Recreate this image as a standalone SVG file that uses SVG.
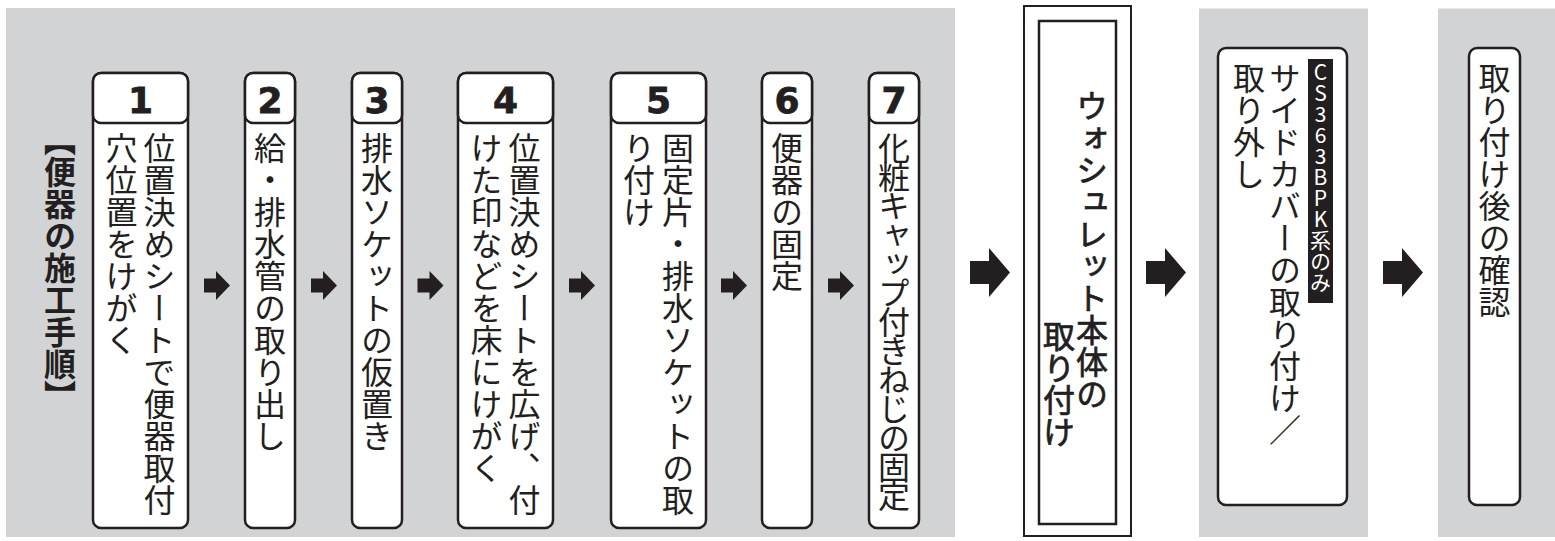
<svg xmlns="http://www.w3.org/2000/svg" width="1555" height="541" viewBox="0 0 1555 541">
<style>
.panel{fill:#d1d3d4}
.box{fill:#fff;stroke:#231f20;stroke-width:2.5}
.num{font-family:"DejaVu Sans","Liberation Sans",sans-serif;font-weight:bold;font-size:36px;fill:#231f20;stroke:#231f20;stroke-width:0.8;text-anchor:middle}
.vt{font-family:"Noto Sans CJK JP","Noto Sans CJK SC",sans-serif;font-size:32px;fill:#231f20;writing-mode:vertical-rl}
.title{font-weight:bold;font-feature-settings:"vhal"}
.med{stroke:#231f20;stroke-width:0.7}
.lbl{font-size:21px;fill:#fff;text-orientation:upright}
.arr{fill:#231f20}
</style>
<defs>
<path id="sa" d="M0,-7 H12 V-14.5 L26,0 L12,14.5 V7 H0 Z"/>
<path id="la" d="M0,-11.5 H19 V-24.5 L40,0 L19,24.5 V11.5 H0 Z"/>
</defs>
<rect class="panel" x="6" y="8" width="949" height="529"/>
<rect class="panel" x="1199" y="8.5" width="169" height="528.5"/>
<rect class="panel" x="1438" y="8.5" width="117" height="528.5"/>

<g id="title">
<text class="vt title" x="60" y="140">【便器の施工手順】</text>
</g>

<g id="step1">
<rect class="box" x="93" y="73" width="95" height="455" rx="8"/>
<rect class="box" x="93" y="73" width="95" height="50" rx="8"/>
<text class="num" x="140.5" y="113">1</text>
<text class="vt" x="159.5" y="132">位置決めシートで便器取付</text>
<text class="vt" x="121.5" y="132">穴位置をけがく</text>
</g>
<g id="step2">
<rect class="box" x="245" y="73" width="50" height="455" rx="8"/>
<rect class="box" x="245" y="73" width="50" height="50" rx="8"/>
<text class="num" x="270" y="113">2</text>
<text class="vt" x="270" y="132">給・排水管の取り出し</text>
</g>
<g id="step3">
<rect class="box" x="352" y="73" width="50" height="455" rx="8"/>
<rect class="box" x="352" y="73" width="50" height="50" rx="8"/>
<text class="num" x="377" y="113">3</text>
<text class="vt" x="377" y="132">排水ソケットの仮置き</text>
</g>
<g id="step4">
<rect class="box" x="458" y="73" width="95" height="455" rx="8"/>
<rect class="box" x="458" y="73" width="95" height="50" rx="8"/>
<text class="num" x="505.5" y="113">4</text>
<text class="vt" x="524.5" y="132">位置決めシートを広げ、付</text>
<text class="vt" x="486.5" y="132">けた印などを床にけがく</text>
</g>
<g id="step5">
<rect class="box" x="611" y="73" width="95" height="455" rx="8"/>
<rect class="box" x="611" y="73" width="95" height="50" rx="8"/>
<text class="num" x="658.5" y="113">5</text>
<text class="vt" x="678" y="132">固定片・排水ソケットの取</text>
<text class="vt" x="639" y="132">り付け</text>
</g>
<g id="step6">
<rect class="box" x="762" y="73" width="50" height="455" rx="8"/>
<rect class="box" x="762" y="73" width="50" height="50" rx="8"/>
<text class="num" x="787" y="113">6</text>
<text class="vt" x="787" y="132">便器の固定</text>
</g>
<g id="step7">
<rect class="box" x="869" y="73" width="50" height="455" rx="8"/>
<rect class="box" x="869" y="73" width="50" height="50" rx="8"/>
<text class="num" x="894" y="113">7</text>
<text class="vt" x="894" y="132" style="letter-spacing:-3px">化粧キャップ付きねじの固定</text>
</g>

<g id="washlet">
<rect x="1024" y="6" width="107" height="530" fill="#fff" stroke="#231f20" stroke-width="2"/>
<rect x="1039" y="21" width="77" height="503" fill="#fff" stroke="#231f20" stroke-width="2.5"/>
<text class="vt med" x="1092" y="90">ウォシュレット本体の</text>
<text class="vt med" x="1059" y="320">取り付け</text>
</g>

<g id="sidecover">
<rect class="box" x="1218" y="48" width="129" height="457" rx="8"/>
<rect x="1308" y="59" width="25" height="244" fill="#231f20"/>
<text class="vt lbl" x="1320.5" y="62">CS363BPK系のみ</text>
<text class="vt" x="1285" y="62">サイドカバーの取り付け／</text>
<text class="vt" x="1249" y="62">取り外し</text>
</g>

<g id="check">
<rect class="box" x="1469" y="48" width="51" height="457" rx="8"/>
<text class="vt" x="1494.5" y="62">取り付け後の確認</text>
</g>

<g id="connectors">
<use href="#sa" class="arr" x="204" y="285.5"/>
<use href="#sa" class="arr" x="311" y="285.5"/>
<use href="#sa" class="arr" x="417.5" y="285.5"/>
<use href="#sa" class="arr" x="569" y="285.5"/>
<use href="#sa" class="arr" x="721" y="285.5"/>
<use href="#sa" class="arr" x="828" y="285.5"/>
<use href="#la" class="arr" x="970" y="272.5"/>
<use href="#la" class="arr" x="1146" y="272.5"/>
<use href="#la" class="arr" x="1383" y="272.5"/>
</g>
</svg>
